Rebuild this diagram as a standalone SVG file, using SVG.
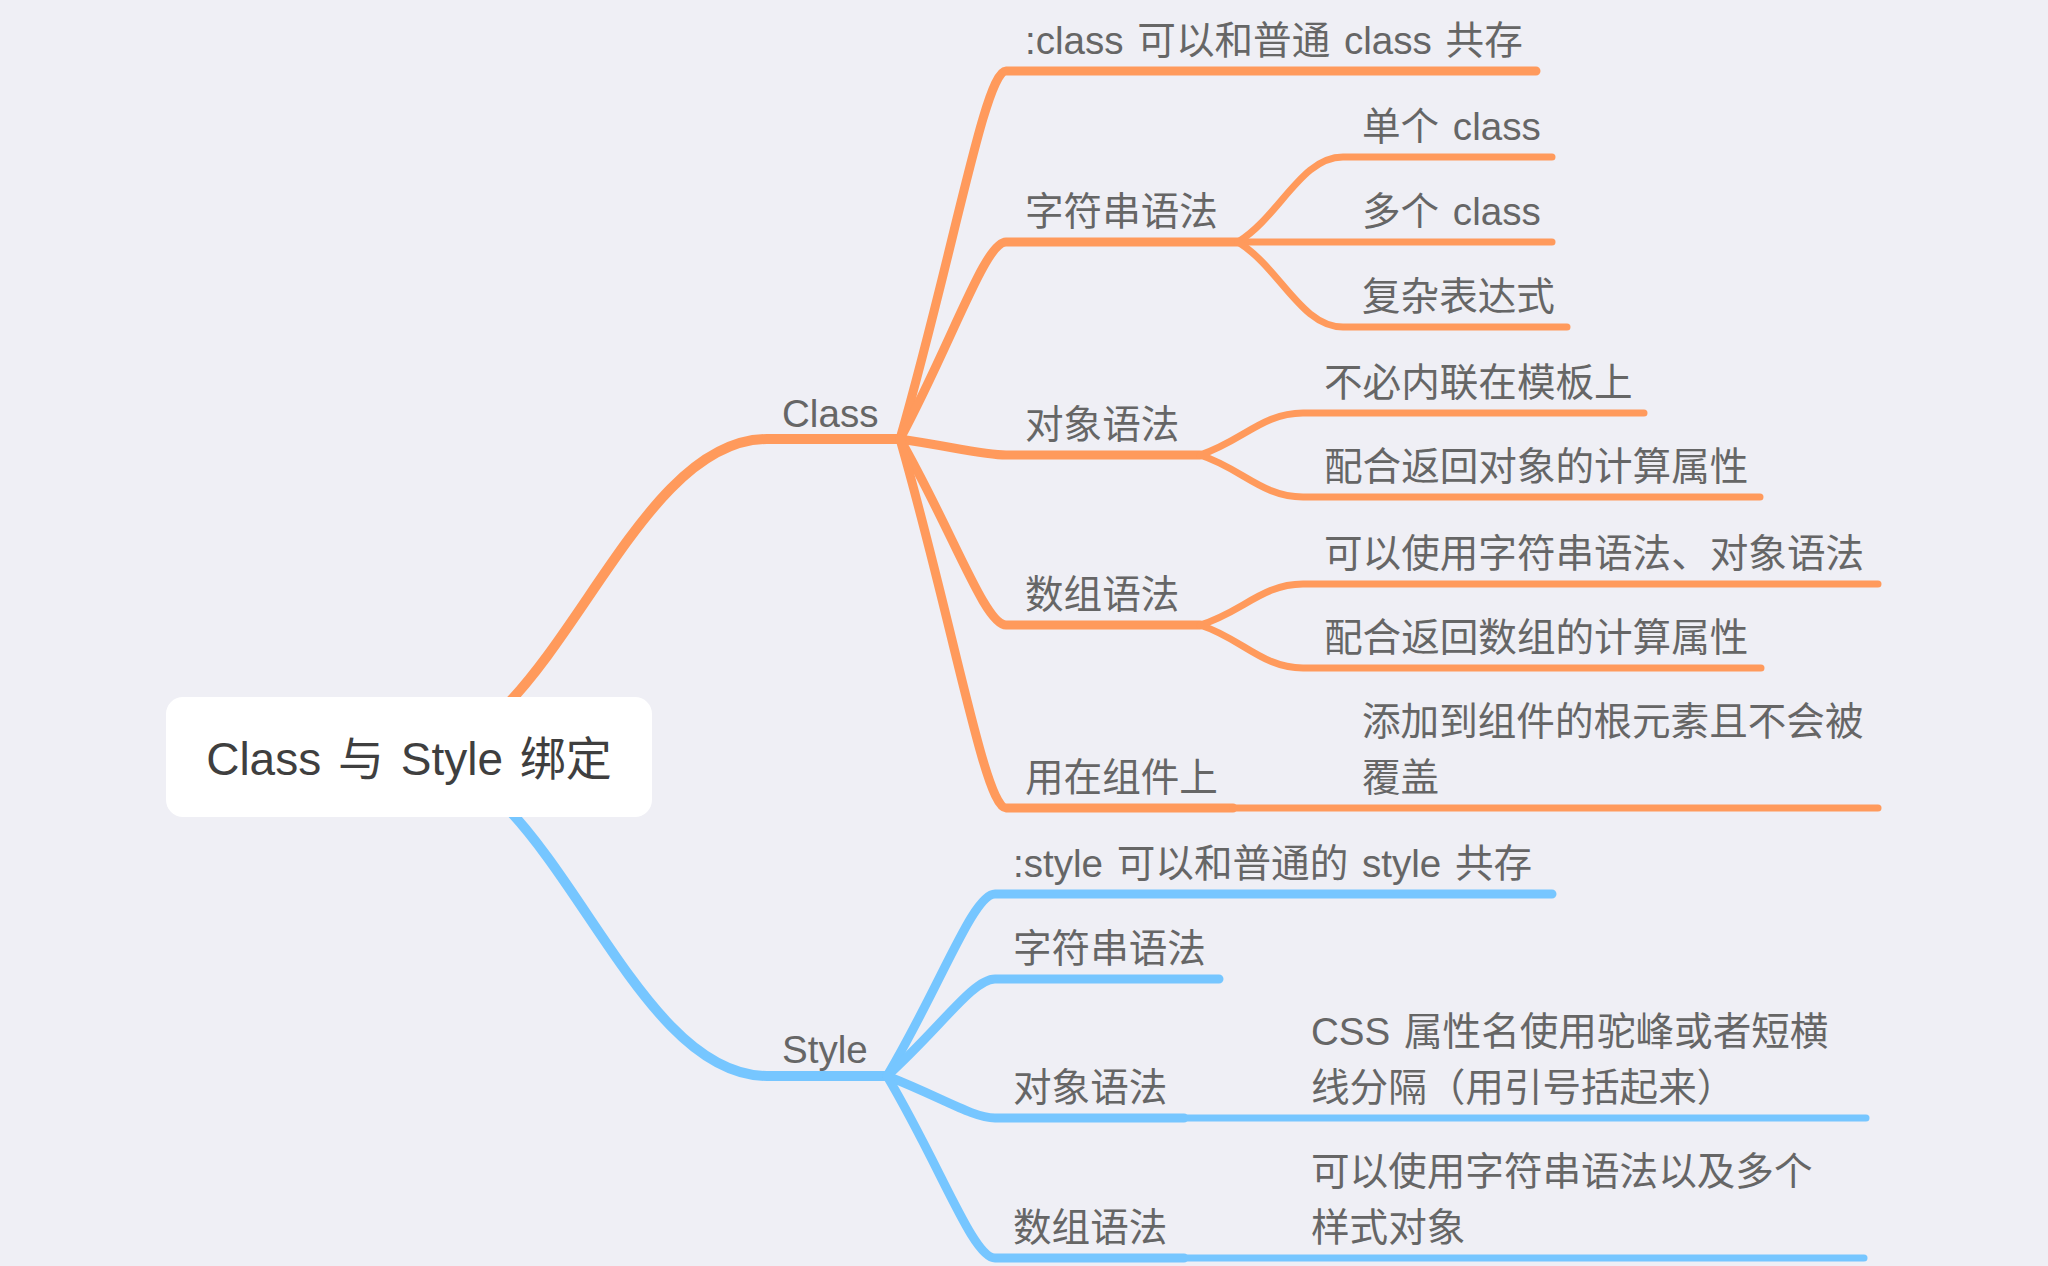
<svg xmlns="http://www.w3.org/2000/svg" width="2048" height="1266" viewBox="0 0 2048 1266">
<style>
.c{fill:none;stroke-linecap:round;stroke-linejoin:round}
.o{stroke:#FF9A5C}
.b{stroke:#76C6FF}
.w0{stroke-width:10}
.w1{stroke-width:9}
.w2{stroke-width:7}
text{font-family:"Liberation Sans","Noto Sans CJK SC",sans-serif;font-size:38.6px;word-spacing:3px;fill:#666666}
.root{font-size:46px;word-spacing:4px;fill:#3f3f3f}
</style>
<rect x="0" y="0" width="2048" height="1266" fill="#EFEFF5"/>
<g id="connectors">
  <path class="c o w0" d="M409 756 C552 756 624 439 767 439 L900 439"/>
  <path class="c b w0" d="M409 756 C552 756 624 1076 767 1076 L887 1076"/>
  <path class="c o w1" d="M900 439 C953 255 985 71 1006 71 L1536 71"/>
  <path class="c o w1" d="M900 439 C953 340 985 242 1006 242 L1238 242"/>
  <path class="c o w1" d="M900 439 C953 447 985 455 1006 455 L1200 455"/>
  <path class="c o w1" d="M900 439 C953 532 985 625 1006 625 L1200 625"/>
  <path class="c o w1" d="M900 439 C953 624 985 808 1006 808 L1233 808"/>
  <path class="c o w2" d="M1238 242 C1280 216 1301 157 1343 157 L1552 157"/>
  <path class="c o w2" d="M1238 242 L1552 242"/>
  <path class="c o w2" d="M1238 242 C1280 268 1301 327 1343 327 L1567 327"/>
  <path class="c o w2" d="M1200 455 C1241 442 1262 413 1303 413 L1644 413"/>
  <path class="c o w2" d="M1200 455 C1241 468 1262 497 1303 497 L1760 497"/>
  <path class="c o w2" d="M1200 625 C1241 613 1262 584 1303 584 L1878 584"/>
  <path class="c o w2" d="M1200 625 C1241 638 1262 668 1303 668 L1761 668"/>
  <path class="c o w2" d="M1233 808 L1878 808"/>
  <path class="c b w1" d="M887 1076 C941 985 973 894 995 894 L1552 894"/>
  <path class="c b w1" d="M887 1076 C941 1027 973 979 995 979 L1219 979"/>
  <path class="c b w1" d="M887 1076 C941 1097 973 1118 995 1118 L1184 1118"/>
  <path class="c b w1" d="M887 1076 C941 1167 973 1258 995 1258 L1184 1258"/>
  <path class="c b w2" d="M1184 1118 L1866 1118"/>
  <path class="c b w2" d="M1184 1258 L1864 1258"/>
</g>
<g id="root">
  <rect x="166" y="697" width="486" height="120" rx="17" ry="17" fill="#FFFFFF"/>
  <text class="root" x="409" y="775" text-anchor="middle">Class 与 Style 绑定</text>
</g>
<g id="class"><text x="782" y="427">Class</text></g>
<g id="style"><text x="782" y="1063">Style</text></g>
<g id="c1"><text x="1025" y="54">:class 可以和普通 class 共存</text></g>
<g id="c2"><text x="1025" y="225">字符串语法</text></g>
<g id="c2a"><text x="1362" y="140">单个 class</text></g>
<g id="c2b"><text x="1362" y="225">多个 class</text></g>
<g id="c2c"><text x="1362" y="310">复杂表达式</text></g>
<g id="c3"><text x="1025" y="438">对象语法</text></g>
<g id="c3a"><text x="1324" y="396">不必内联在模板上</text></g>
<g id="c3b"><text x="1324" y="480">配合返回对象的计算属性</text></g>
<g id="c4"><text x="1025" y="608">数组语法</text></g>
<g id="c4a"><text x="1324" y="567">可以使用字符串语法、对象语法</text></g>
<g id="c4b"><text x="1324" y="651">配合返回数组的计算属性</text></g>
<g id="c5"><text x="1025" y="791">用在组件上</text></g>
<g id="c5a"><text x="1362" y="735">添加到组件的根元素且不会被</text><text x="1362" y="791">覆盖</text></g>
<g id="s1"><text x="1013" y="877">:style 可以和普通的 style 共存</text></g>
<g id="s2"><text x="1013" y="962">字符串语法</text></g>
<g id="s3"><text x="1013" y="1101">对象语法</text></g>
<g id="s3a"><text x="1311" y="1045">CSS 属性名使用驼峰或者短横</text><text x="1311" y="1101">线分隔（用引号括起来）</text></g>
<g id="s4"><text x="1013" y="1241">数组语法</text></g>
<g id="s4a"><text x="1311" y="1185">可以使用字符串语法以及多个</text><text x="1311" y="1241">样式对象</text></g>
</svg>
